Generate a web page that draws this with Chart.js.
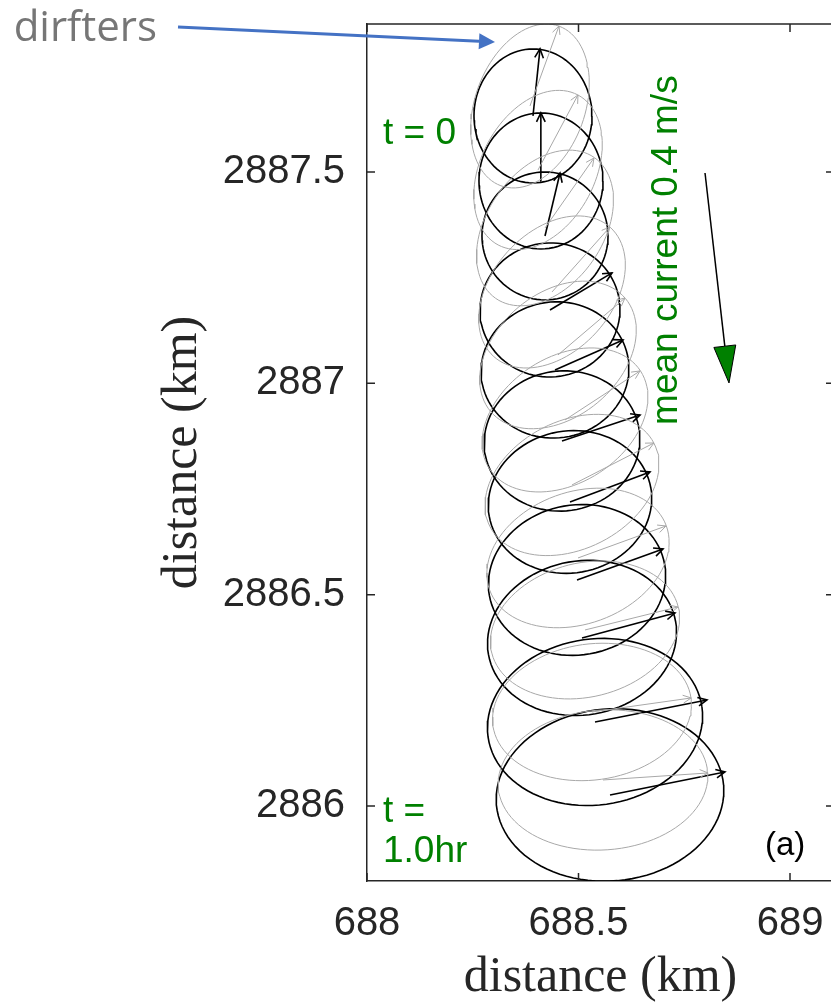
<!DOCTYPE html>
<html>
<head>
<meta charset="utf-8">
<script src="https://cdn.jsdelivr.net/npm/chart.js@4.4.0/dist/chart.umd.min.js"></script>
<style>
    html, body { margin: 0; padding: 0; background: #fff; overflow: hidden; }
    #driftChart { display: block; width: 850px; height: 1004px; }
</style>
</head>
<body>
<canvas id="driftChart" width="850" height="1004"></canvas>
<script>
// Axis ticks (km)
const xTicks = [688, 688.5, 689];
const yTicks = [2886, 2886.5, 2887, 2887.5];

// Black drifter ellipses: centre, semi-axes (km), tilt (deg), arrow tip
const blackCx = [688.3924, 688.4113, 688.4208, 688.4326, 688.4444, 688.4610, 688.4799, 688.4965, 688.5083, 688.5390, 688.5745];
const blackCy = [2887.6325, 2887.4787, 2887.3486, 2887.1735, 2887.0316, 2886.8636, 2886.7193, 2886.5348, 2886.3976, 2886.1988, 2886.0261];
const blackRx = [0.1395, 0.1466, 0.1490, 0.1655, 0.1750, 0.1844, 0.1939, 0.2104, 0.2246, 0.2553, 0.2695];
const blackRy = [0.1585, 0.1609, 0.1514, 0.1585, 0.1609, 0.1656, 0.1680, 0.1774, 0.1822, 0.1964, 0.2035];
const blackTilt = [0, 0, 0, 5, 8, 8, 10, 10, 10, 8, 5];
const blackTipX = [688.4090, 688.4110, 688.4563, 688.5792, 688.6052, 688.6454, 688.6690, 688.6998, 688.7281, 688.8038, 688.8463];
const blackTipY = [2887.7910, 2887.6396, 2887.4976, 2887.2611, 2887.1026, 2886.9251, 2886.7903, 2886.6081, 2886.4567, 2886.2509, 2886.0806];

// Grey drifter ellipses
const greyCx = [688.3853, 688.4043, 688.4208, 688.4374, 688.4515, 688.4681, 688.4846, 688.4988, 688.5154, 688.5319, 688.5579];
const greyCy = [2887.6561, 2887.5047, 2887.3675, 2887.2161, 2887.0671, 2886.9133, 2886.7595, 2886.5868, 2886.4165, 2886.2225, 2886.0616];
const greyRx = [0.2009, 0.2009, 0.2033, 0.2057, 0.2080, 0.2128, 0.2175, 0.2222, 0.2270, 0.2364, 0.2482];
const greyRy = [0.1300, 0.1348, 0.1371, 0.1418, 0.1466, 0.1489, 0.1513, 0.1560, 0.1584, 0.1608, 0.1655];
const greyTilt = [70, 62, 55, 48, 40, 33, 27, 20, 14, 8, 4];
const greyTipX = [688.4539, 688.4988, 688.5366, 688.5745, 688.6099, 688.6454, 688.6785, 688.7069, 688.7352, 688.7664, 688.8061];
const greyTipY = [2887.8454, 2887.6822, 2887.5331, 2887.3699, 2887.2019, 2887.0292, 2886.8589, 2886.6625, 2886.4709, 2886.2556, 2886.0782];

// Annotations (data units)
const dirftersText = { x: 687.5035, y: 2887.8100 };
const dirftersArrow = { x0: 687.5532, y0: 2887.8430, x1: 688.3026, y1: 2887.8075 };
const currentArrow = { x0: 688.7991, y0: 2887.4976, x1: 688.8558, y1: 2887.0008 };
const currentText = { x: 688.7329, y: 2886.9015 };
const tStartText = { x: 688.0378, y: 2887.5662 };
const tEndText = { x: 688.0378, y1: 2885.9623, y2: 2885.8676 };
const panelText = { x: 688.9409, y: 2885.8842 };

const AXIS_COLOR = '#262626';
const GREEN = '#008000';

// Outline of an ellipse for a line dataset
function ellipsePoints(cx, cy, rx, ry, tiltDeg) {
    const pts = [];
    const th = tiltDeg * Math.PI / 180;
    for (let i = 0; i <= 96; i++) {
        const t = i / 96 * 2 * Math.PI;
        const ex = rx * Math.cos(t), ey = ry * Math.sin(t);
        pts.push({
            x: cx + ex * Math.cos(th) - ey * Math.sin(th),
            y: cy + ex * Math.sin(th) + ey * Math.cos(th)
        });
    }
    return pts;
}

function buildDatasets() {
    const sets = [];
    const groups = [
        { cx: greyCx, cy: greyCy, rx: greyRx, ry: greyRy, tilt: greyTilt, tx: greyTipX, ty: greyTipY, color: '#a8a8a8', width: 1, head: 9 },
        { cx: blackCx, cy: blackCy, rx: blackRx, ry: blackRy, tilt: blackTilt, tx: blackTipX, ty: blackTipY, color: '#000000', width: 1.6, head: 10 }
    ];
    groups.forEach(g => {
        g.cx.forEach((cx, i) => {
            sets.push({
                data: ellipsePoints(cx, g.cy[i], g.rx[i], g.ry[i], g.tilt[i]),
                borderColor: g.color, borderWidth: g.width
            });
            sets.push({
                data: [{ x: cx, y: g.cy[i] }, { x: g.tx[i], y: g.ty[i] }],
                borderColor: g.color, borderWidth: g.width,
                arrowHead: g.head
            });
        });
    });
    return sets;
}

// Open "V" heads at the end of each velocity arrow
const arrowHeadPlugin = {
    id: 'arrowHeads',
    afterDatasetsDraw(chart) {
        const ctx = chart.ctx;
        const a = chart.chartArea;
        ctx.save();
        ctx.beginPath();
        ctx.rect(a.left, a.top, a.right - a.left, a.bottom - a.top);
        ctx.clip();
        chart.data.datasets.forEach((ds, i) => {
            if (!ds.arrowHead) return;
            const pts = chart.getDatasetMeta(i).data;
            const p0 = pts[0], p1 = pts[1];
            const ang = Math.atan2(p1.y - p0.y, p1.x - p0.x);
            const L = ds.arrowHead, spread = 0.45;
            ctx.strokeStyle = ds.borderColor;
            ctx.lineWidth = ds.borderWidth;
            ctx.beginPath();
            ctx.moveTo(p1.x - L * Math.cos(ang - spread), p1.y - L * Math.sin(ang - spread));
            ctx.lineTo(p1.x, p1.y);
            ctx.lineTo(p1.x - L * Math.cos(ang + spread), p1.y - L * Math.sin(ang + spread));
            ctx.stroke();
        });
        ctx.restore();
    }
};

// Top edge, inward ticks and the text annotations
const decorPlugin = {
    id: 'decor',
    afterDraw(chart) {
        const ctx = chart.ctx;
        const a = chart.chartArea;
        const xs = chart.scales.x, ys = chart.scales.y;
        const X = v => xs.getPixelForValue(v);
        const Y = v => ys.getPixelForValue(v);

        ctx.save();
        ctx.strokeStyle = AXIS_COLOR;
        ctx.lineWidth = 1.5;
        ctx.beginPath();
        ctx.moveTo(a.left, a.top); ctx.lineTo(a.right, a.top);
        xTicks.forEach(v => {
            const p = X(v);
            ctx.moveTo(p, a.bottom); ctx.lineTo(p, a.bottom - 8);
            ctx.moveTo(p, a.top); ctx.lineTo(p, a.top + 8);
        });
        yTicks.forEach(v => {
            const p = Y(v);
            ctx.moveTo(a.left, p); ctx.lineTo(a.left + 8, p);
            ctx.moveTo(a.right, p); ctx.lineTo(a.right - 8, p);
        });
        ctx.stroke();

        // green labels
        ctx.fillStyle = GREEN;
        ctx.font = '37px "Liberation Sans", Arial, sans-serif';
        ctx.textAlign = 'left';
        ctx.textBaseline = 'alphabetic';
        ctx.fillText('t = 0', X(tStartText.x), Y(tStartText.y));
        ctx.fillText('t =', X(tEndText.x), Y(tEndText.y1));
        ctx.fillText('1.0hr', X(tEndText.x), Y(tEndText.y2));

        ctx.save();
        ctx.translate(X(currentText.x), Y(currentText.y));
        ctx.rotate(-Math.PI / 2);
        ctx.fillText('mean current 0.4 m/s', 0, 0);
        ctx.restore();

        // mean current arrow
        const cx0 = X(currentArrow.x0), cy0 = Y(currentArrow.y0);
        const cx1 = X(currentArrow.x1), cy1 = Y(currentArrow.y1);
        const ca = Math.atan2(cy1 - cy0, cx1 - cx0);
        const hl = 37, hw = 11;
        const bx = cx1 - hl * Math.cos(ca), by = cy1 - hl * Math.sin(ca);
        ctx.strokeStyle = '#000';
        ctx.lineWidth = 1.5;
        ctx.beginPath();
        ctx.moveTo(cx0, cy0); ctx.lineTo(bx, by);
        ctx.stroke();
        ctx.beginPath();
        ctx.moveTo(cx1, cy1);
        ctx.lineTo(bx + hw * Math.sin(ca), by - hw * Math.cos(ca));
        ctx.lineTo(bx - hw * Math.sin(ca), by + hw * Math.cos(ca));
        ctx.closePath();
        ctx.fillStyle = GREEN;
        ctx.fill();
        ctx.lineWidth = 1;
        ctx.stroke();

        // panel label
        ctx.fillStyle = '#000';
        ctx.font = '33px "Liberation Sans", Arial, sans-serif';
        ctx.fillText('(a)', X(panelText.x), Y(panelText.y));

        // "dirfters" callout
        ctx.fillStyle = '#767676';
        ctx.font = '42px "Open Sans", "Liberation Sans", sans-serif';
        ctx.textAlign = 'right';
        ctx.fillText('dirfters', X(dirftersText.x), Y(dirftersText.y));

        const dx0 = X(dirftersArrow.x0), dy0 = Y(dirftersArrow.y0);
        const dx1 = X(dirftersArrow.x1), dy1 = Y(dirftersArrow.y1);
        const da = Math.atan2(dy1 - dy0, dx1 - dx0);
        const dl = 16, dw = 8;
        const ex = dx1 - dl * Math.cos(da), ey = dy1 - dl * Math.sin(da);
        ctx.strokeStyle = '#4472c4';
        ctx.fillStyle = '#4472c4';
        ctx.lineWidth = 3;
        ctx.beginPath();
        ctx.moveTo(dx0, dy0); ctx.lineTo(ex, ey);
        ctx.stroke();
        ctx.beginPath();
        ctx.moveTo(dx1, dy1);
        ctx.lineTo(ex + dw * Math.sin(da), ey - dw * Math.cos(da));
        ctx.lineTo(ex - dw * Math.sin(da), ey + dw * Math.cos(da));
        ctx.closePath();
        ctx.fill();
        ctx.restore();
    }
};

const tickFont = { family: '"Liberation Sans", Arial, sans-serif', size: 40 };
const titleFont = { family: '"Liberation Serif", "Times New Roman", serif', size: 50, lineHeight: 1 };

new Chart(document.getElementById('driftChart'), {
    type: 'scatter',
    data: { datasets: buildDatasets() },
    options: {
        responsive: false,
        animation: false,
        showLine: true,
        layout: { padding: { top: 24, right: 16, left: 0, bottom: 0 } },
        elements: {
            point: { radius: 0, hoverRadius: 0 },
            line: { tension: 0, fill: false }
        },
        plugins: {
            legend: { display: false },
            tooltip: { enabled: false }
        },
        scales: {
            x: {
                type: 'linear',
                position: 'bottom',
                min: 688,
                max: 689.104,
                afterBuildTicks: s => { s.ticks = xTicks.map(v => ({ value: v })); },
                afterFit: s => { s.height = 123; s.paddingLeft = 0; s.paddingRight = 0; },
                grid: { display: false, drawTicks: false },
                border: { display: true, color: AXIS_COLOR, width: 1.5 },
                ticks: { font: tickFont, color: AXIS_COLOR, padding: 19, maxRotation: 0, callback: v => String(v) },
                title: { display: true, text: 'distance (km)', font: titleFont, color: AXIS_COLOR, padding: { top: 0, bottom: 1 } }
            },
            y: {
                type: 'linear',
                position: 'left',
                min: 2885.8226,
                max: 2887.85,
                afterBuildTicks: s => { s.ticks = yTicks.map(v => ({ value: v })); },
                afterFit: s => { s.width = 367; s.paddingTop = 0; s.paddingBottom = 0; },
                grid: { display: false, drawTicks: false },
                border: { display: true, color: AXIS_COLOR, width: 1.5 },
                ticks: { font: tickFont, color: AXIS_COLOR, padding: 22, callback: v => String(v) },
                title: { display: true, text: 'distance (km)', font: titleFont, color: AXIS_COLOR, padding: { top: 158, bottom: 0 } }
            }
        }
    },
    plugins: [arrowHeadPlugin, decorPlugin]
});
</script>
</body>
</html>
